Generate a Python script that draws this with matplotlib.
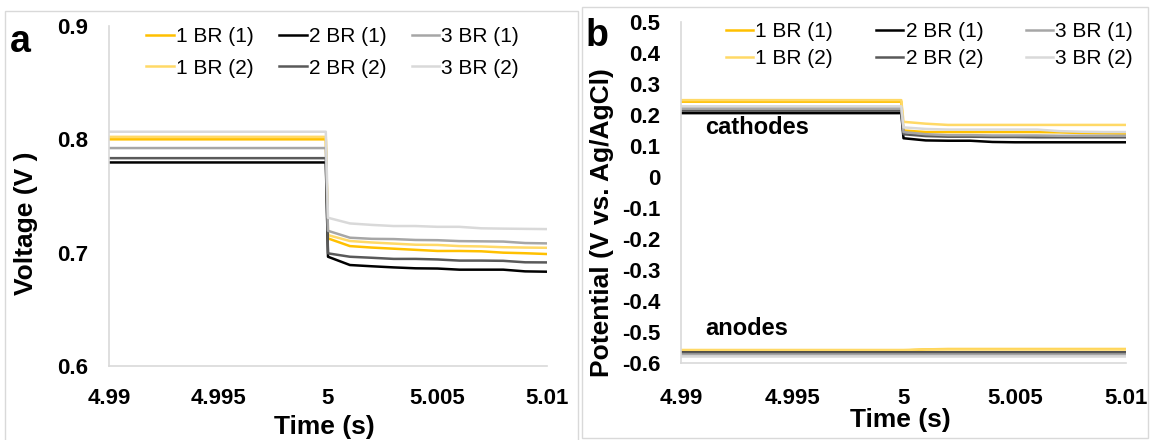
import matplotlib
matplotlib.use("Agg")
import matplotlib.pyplot as plt
from matplotlib.patches import Rectangle

plt.rcParams['font.family'] = ['Liberation Sans', 'DejaVu Sans']

# time points (s)
tiempo = [4.99, 4.9999, 5.000, 5.001, 5.002, 5.003, 5.004, 5.005,
          5.006, 5.007, 5.008, 5.009, 5.010]

etiquetas = ["1 BR (1)", "1 BR (2)", "2 BR (1)", "2 BR (2)", "3 BR (1)", "3 BR (2)"]
colores = ["#FFC000", "#FFD966", "#000000", "#595959", "#A6A6A6", "#D9D9D9"]

# panel a: cell voltage (V)
volt_1br1 = [0.800, 0.800, 0.7126, 0.7058, 0.7045, 0.7035, 0.7025, 0.7015, 0.7015, 0.7012, 0.7000, 0.6995, 0.6988]
volt_1br2 = [0.8022, 0.8022, 0.7155, 0.7103, 0.7090, 0.7080, 0.7070, 0.7068, 0.7058, 0.7055, 0.7048, 0.7045, 0.7043]
volt_2br1 = [0.7796, 0.7796, 0.6964, 0.6891, 0.6880, 0.6870, 0.6862, 0.6860, 0.6850, 0.6850, 0.6850, 0.6835, 0.6832]
volt_2br2 = [0.7834, 0.7834, 0.6994, 0.6964, 0.6955, 0.6945, 0.6945, 0.6940, 0.6930, 0.6930, 0.6928, 0.6915, 0.6914]
volt_3br1 = [0.7923, 0.7923, 0.7193, 0.7132, 0.7122, 0.7120, 0.7112, 0.7110, 0.7102, 0.7100, 0.7098, 0.7085, 0.7082]
volt_3br2 = [0.8067, 0.8067, 0.7308, 0.7258, 0.7245, 0.7235, 0.7235, 0.7228, 0.7228, 0.7215, 0.7212, 0.7210, 0.7208]

# panel b: electrode potentials (V vs. Ag/AgCl)
cat_1br1 = [0.243, 0.243, 0.150, 0.145, 0.145, 0.145, 0.145, 0.145, 0.145, 0.144, 0.142, 0.141, 0.140]
cat_1br2 = [0.248, 0.248, 0.178, 0.172, 0.168, 0.168, 0.168, 0.168, 0.168, 0.168, 0.168, 0.168, 0.168]
cat_2br1 = [0.206, 0.206, 0.125, 0.118, 0.117, 0.117, 0.113, 0.112, 0.112, 0.112, 0.112, 0.112, 0.112]
cat_2br2 = [0.214, 0.214, 0.138, 0.132, 0.130, 0.130, 0.129, 0.129, 0.128, 0.128, 0.128, 0.128, 0.128]
cat_3br1 = [0.222, 0.222, 0.145, 0.138, 0.135, 0.135, 0.134, 0.134, 0.134, 0.133, 0.133, 0.133, 0.133]
cat_3br2 = [0.228, 0.228, 0.160, 0.155, 0.153, 0.153, 0.153, 0.153, 0.153, 0.148, 0.146, 0.145, 0.145]

an_1br1 = [-0.560, -0.560, -0.560, -0.556, -0.555, -0.555, -0.555, -0.555, -0.555, -0.555, -0.555, -0.555, -0.555]
an_1br2 = [-0.558, -0.558, -0.558, -0.556, -0.556, -0.556, -0.556, -0.556, -0.556, -0.556, -0.556, -0.556, -0.556]
an_2br1 = [-0.563, -0.563, -0.563, -0.563, -0.563, -0.563, -0.563, -0.563, -0.563, -0.563, -0.563, -0.563, -0.563]
an_2br2 = [-0.566, -0.566, -0.566, -0.566, -0.566, -0.566, -0.566, -0.566, -0.566, -0.566, -0.566, -0.566, -0.566]
an_3br1 = [-0.572, -0.572, -0.572, -0.572, -0.572, -0.572, -0.572, -0.572, -0.572, -0.572, -0.572, -0.572, -0.572]
an_3br2 = [-0.578, -0.578, -0.578, -0.578, -0.578, -0.578, -0.578, -0.578, -0.578, -0.578, -0.578, -0.578, -0.578]

x_ticks = [4.99, 4.995, 5.0, 5.005, 5.01]
x_ticklabels = ["4.99", "4.995", "5", "5.005", "5.01"]
ya_ticks = [0.6, 0.7, 0.8, 0.9]
ya_ticklabels = ["0.6", "0.7", "0.8", "0.9"]
yb_ticks = [0.5, 0.4, 0.3, 0.2, 0.1, 0.0, -0.1, -0.2, -0.3, -0.4, -0.5, -0.6]
yb_ticklabels = ["0.5", "0.4", "0.3", "0.2", "0.1", "0", "-0.1", "-0.2", "-0.3", "-0.4", "-0.5", "-0.6"]

voltajes = [volt_1br1, volt_1br2, volt_2br1, volt_2br2, volt_3br1, volt_3br2]
catodos = [cat_1br1, cat_1br2, cat_2br1, cat_2br2, cat_3br1, cat_3br2]
anodos = [an_1br1, an_1br2, an_2br1, an_2br2, an_3br1, an_3br2]

W, H = 1151, 440
fig = plt.figure(figsize=(W / 100, H / 100), dpi=100)

# light gray frames around each panel
fig.patches.append(Rectangle((5 / W, -0.05), 573 / W, (H - 11) / H + 0.05, transform=fig.transFigure,
                             fill=False, edgecolor="#D9D9D9", lw=1))
fig.patches.append(Rectangle((582 / W, 2 / H), 566 / W, (H - 9) / H, transform=fig.transFigure,
                             fill=False, edgecolor="#D9D9D9", lw=1))

ax_a = fig.add_axes([109 / W, (H - 366) / H, 438 / W, 340 / H])
ax_b = fig.add_axes([681 / W, (H - 363) / H, 445 / W, 341 / H])


def estilo(ax, pad_x, pad_y):
    for lado in ["top", "right"]:
        ax.spines[lado].set_visible(False)
    for lado in ["left", "bottom"]:
        ax.spines[lado].set_color("#D9D9D9")
        ax.spines[lado].set_linewidth(1.2)
    ax.tick_params(axis="x", length=0, pad=pad_x, labelsize=16)
    ax.tick_params(axis="y", length=0, pad=pad_y, labelsize=16)
    for lbl in ax.get_xticklabels() + ax.get_yticklabels():
        lbl.set_fontweight("bold")
    ax.set_xlim(4.99, 5.01)


# --- panel a ---
for serie, color, etiqueta in zip(voltajes, colores, etiquetas):
    ax_a.plot(tiempo, serie, color=color, lw=1.8, label=etiqueta)
ax_a.set_ylim(0.6, 0.9)
ax_a.set_xticks(x_ticks)
ax_a.set_xticklabels(x_ticklabels)
ax_a.set_yticks(ya_ticks)
ax_a.set_yticklabels(ya_ticklabels)
estilo(ax_a, 16, 15)
ax_a.set_xlabel("Time (s)", fontsize=19, fontweight="bold", va="center")
ax_a.xaxis.set_label_coords(0.492, -0.179)
ax_a.set_ylabel("Voltage (V )", fontsize=19, fontweight="bold", va="center")
ax_a.yaxis.set_label_coords(-0.19, 0.42)
ax_a.legend(ncol=3, frameon=False, fontsize=15, loc="center", bbox_to_anchor=(0.511, 0.922),
            handlelength=1.3, handletextpad=0.1, columnspacing=1.25, labelspacing=0.6)
fig.text(20 / W, 1 - 42 / H, "a", fontsize=27, fontweight="bold", ha="center", va="center")

# --- panel b ---
for cat, an, color, etiqueta in zip(catodos, anodos, colores, etiquetas):
    ax_b.plot(tiempo, cat, color=color, lw=1.8, label=etiqueta)
    ax_b.plot(tiempo, an, color=color, lw=1.8)
ax_b.set_ylim(-0.6, 0.5)
ax_b.set_xticks(x_ticks)
ax_b.set_xticklabels(x_ticklabels)
ax_b.set_yticks(yb_ticks)
ax_b.set_yticklabels(yb_ticklabels)
estilo(ax_b, 18, 15)
ax_b.set_xlabel("Time (s)", fontsize=19, fontweight="bold", va="center")
ax_b.xaxis.set_label_coords(0.494, -0.168)
ax_b.set_ylabel("Potential (V vs. Ag/AgCl)", fontsize=19, fontweight="bold", va="center")
ax_b.yaxis.set_label_coords(-0.178, 0.413)
ax_b.legend(ncol=3, frameon=False, fontsize=15, loc="center", bbox_to_anchor=(0.559, 0.932),
            handlelength=1.3, handletextpad=0.1, columnspacing=2.07, labelspacing=0.38)
ax_b.text(705 / W, 1 - 127 / H, "cathodes", transform=fig.transFigure, fontsize=17,
          fontweight="bold", ha="left", va="center")
ax_b.text(705 / W, 1 - 328 / H, "anodes", transform=fig.transFigure, fontsize=17,
          fontweight="bold", ha="left", va="center")
fig.text(597 / W, 1 - 36 / H, "b", fontsize=27, fontweight="bold", ha="center", va="center")

fig.savefig("out.png", dpi=100)
